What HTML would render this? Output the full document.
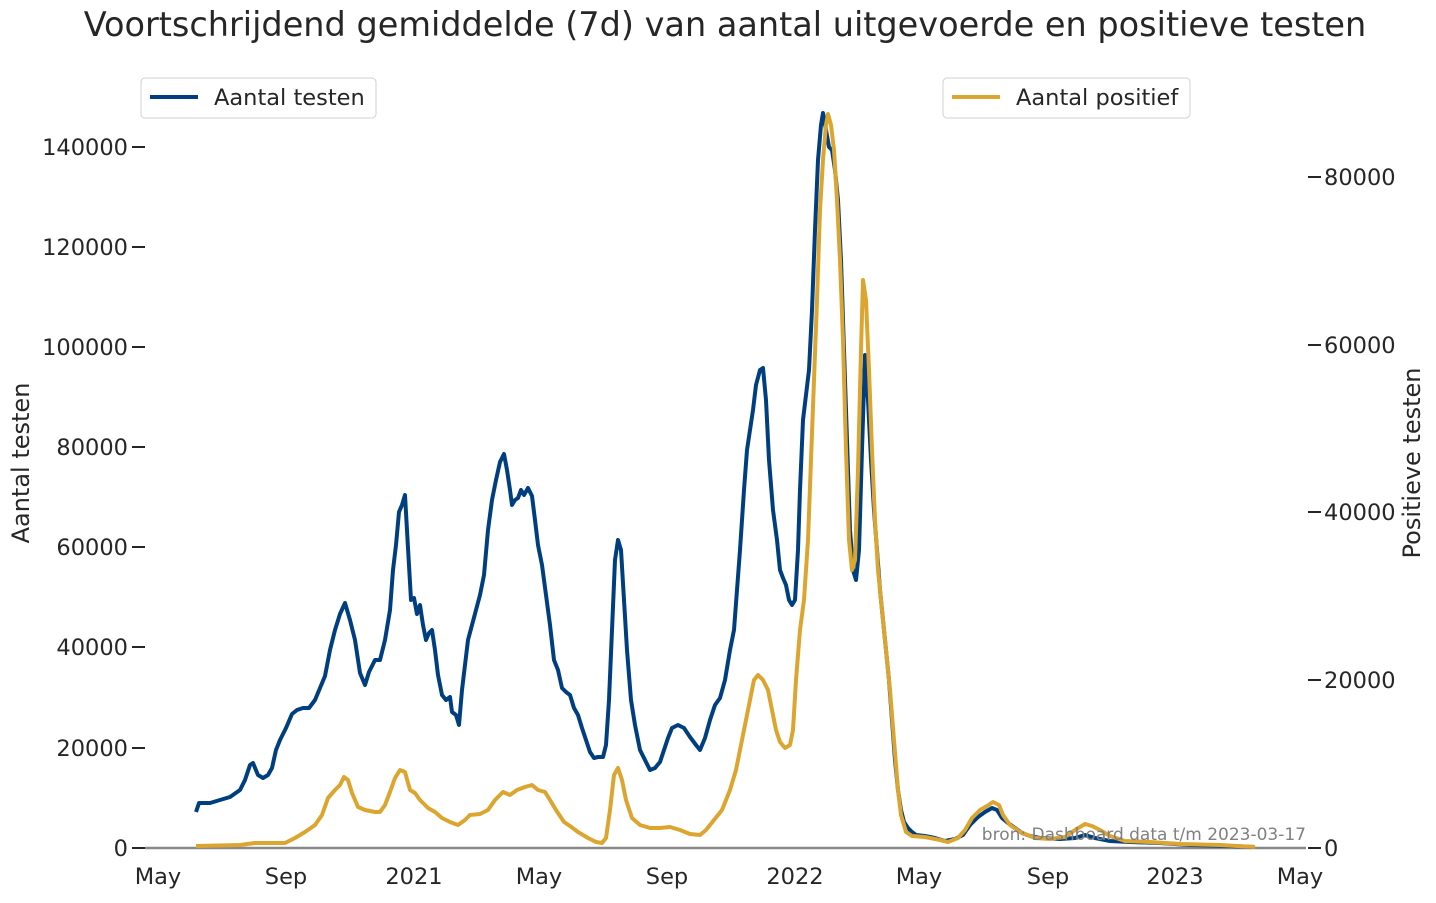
<!DOCTYPE html>
<html><head><meta charset="utf-8"><style>
body{margin:0;background:#fff;}
svg text{font-family:"DejaVu Sans","Liberation Sans",sans-serif;fill:#262626;}
</style></head><body>
<svg width="1436" height="898" viewBox="0 0 1436 898" xmlns="http://www.w3.org/2000/svg">
<text x="725" y="36" font-size="33.5" text-anchor="middle">Voortschrijdend gemiddelde (7d) van aantal uitgevoerde en positieve testen</text>
<g font-size="22.5" text-anchor="end" stroke="none">
<text x="128" y="856">0</text>
<text x="128" y="756">20000</text>
<text x="128" y="655">40000</text>
<text x="128" y="555">60000</text>
<text x="128" y="455">80000</text>
<text x="128" y="355">100000</text>
<text x="128" y="255">120000</text>
<text x="128" y="155">140000</text>
</g>
<g stroke="#262626" stroke-width="2">
<line x1="132" x2="145" y1="848" y2="848"/><line x1="132" x2="145" y1="748" y2="748"/>
<line x1="132" x2="145" y1="647" y2="647"/><line x1="132" x2="145" y1="547" y2="547"/>
<line x1="132" x2="145" y1="447" y2="447"/><line x1="132" x2="145" y1="347" y2="347"/>
<line x1="132" x2="145" y1="247" y2="247"/><line x1="132" x2="145" y1="147" y2="147"/>
<line x1="1308" x2="1321" y1="848" y2="848"/><line x1="1308" x2="1321" y1="680" y2="680"/>
<line x1="1308" x2="1321" y1="512" y2="512"/><line x1="1308" x2="1321" y1="345" y2="345"/>
<line x1="1308" x2="1321" y1="177" y2="177"/>
</g>
<g font-size="22.5">
<text x="1324" y="856">0</text>
<text x="1324" y="688">20000</text>
<text x="1324" y="520">40000</text>
<text x="1324" y="353">60000</text>
<text x="1324" y="185">80000</text>
</g>
<text font-size="24" transform="translate(29,463) rotate(-90)" text-anchor="middle">Aantal testen</text>
<text font-size="24" transform="translate(1420,463) rotate(-90)" text-anchor="middle">Positieve testen</text>
<g font-size="22.5" text-anchor="middle">
<text x="158" y="884">May</text><text x="286" y="884">Sep</text><text x="414" y="884">2021</text>
<text x="539" y="884">May</text><text x="667" y="884">Sep</text><text x="795" y="884">2022</text>
<text x="919" y="884">May</text><text x="1048" y="884">Sep</text><text x="1175" y="884">2023</text>
<text x="1300" y="884">May</text>
</g>
<line x1="145" x2="1306" y1="848" y2="848" stroke="#888" stroke-width="2.5"/>
<polyline fill="none" stroke="#003f7f" stroke-width="4" stroke-linejoin="round" points="196,812 199,803 210,803 220,800 230,797 240,790 245,780 250,765 253,763 258,775 263,778 268,775 272,768 276,750 280,740 286,728 292,714 297,710 303,708 309,708 315,700 320,688 325,676 330,650 335,630 340,614 345,603 350,620 355,640 360,673 365,685 369,672 375,660 380,660 385,640 390,610 393,570 396,545 399,512 402,505 405,495 408,548 411,600 414,598 417,614 420,605 423,625 426,640 429,633 432,630 435,650 438,675 442,695 446,700 450,697 452,712 456,715 459,725 462,690 465,665 468,640 472,625 476,610 480,595 484,575 488,530 492,500 496,480 500,462 504,454 507,470 510,490 512,505 515,500 518,498 521,490 524,495 528,488 532,496 535,520 538,545 542,565 546,595 550,625 554,660 558,670 562,688 566,692 570,695 574,708 578,715 582,728 586,740 590,752 594,758 598,757 603,757 606,745 609,700 612,630 615,560 618,540 621,550 624,600 627,650 631,700 635,725 640,750 645,760 650,770 655,768 660,762 664,750 668,738 672,728 678,725 684,728 690,737 696,745 700,750 705,738 710,720 715,705 720,698 725,680 730,650 734,630 737,590 740,550 744,490 747,450 750,430 753,410 756,385 760,370 763,368 766,400 769,460 773,510 777,540 780,570 783,578 786,585 789,600 792,605 795,600 798,550 800,490 803,420 806,395 809,370 812,310 815,230 818,160 821,125 823,113 826,130 829,147 832,150 835,170 838,200 841,260 844,350 847,440 850,530 853,570 856,580 859,550 862,450 865,355 868,400 871,460 874,510 877,550 880,590 883,620 886,650 889,680 892,720 895,760 898,790 901,810 904,822 908,828 912,832 916,835 925,836 935,838 945,841 955,839 963,835 970,825 978,817 985,812 992,808 997,810 1002,818 1008,823 1015,828 1022,833 1030,836 1040,838 1060,839 1075,838 1085,835 1095,838 1110,841 1130,842 1160,843 1190,845 1230,846 1255,847"/>
<polyline fill="none" stroke="#dca530" stroke-width="4" stroke-linejoin="round" points="196,846 240,845 255,843 270,843 285,843 295,838 305,832 315,825 322,815 328,798 335,790 340,785 344,777 348,780 352,793 358,807 365,810 375,812 380,812 385,805 390,792 395,778 400,770 405,772 410,790 415,793 420,800 428,808 435,812 442,818 450,822 458,825 465,820 470,815 480,814 488,810 495,800 503,792 510,795 517,790 525,787 532,785 538,790 545,792 550,800 556,810 564,822 570,826 578,832 588,838 596,842 602,843 606,838 610,810 614,775 618,768 622,780 626,800 632,818 640,825 650,828 660,828 670,827 680,830 690,834 700,835 706,830 714,820 722,810 730,790 736,770 742,740 748,710 754,680 758,675 763,680 768,690 772,710 776,730 780,742 785,748 790,745 793,730 796,680 800,630 804,600 808,540 811,460 814,380 817,300 820,210 823,160 826,125 828,114 831,125 834,150 837,200 840,260 843,340 846,450 849,540 852,570 855,560 858,470 861,350 863,280 866,300 869,370 872,450 875,520 878,570 882,610 886,650 890,690 894,740 898,790 901,815 906,832 912,836 925,837 940,840 948,842 958,838 965,830 972,818 980,810 987,806 993,802 999,805 1003,815 1010,825 1020,832 1035,838 1050,839 1065,837 1075,830 1085,824 1092,826 1100,830 1110,836 1125,841 1150,842 1180,844 1220,845 1255,847"/>
<text x="1306" y="840" font-size="17" text-anchor="end" style="fill:#808080">bron: Dashboard data t/m 2023-03-17</text>
<rect x="141" y="78" width="235" height="40" rx="4" fill="#fff" fill-opacity="0.8" stroke="#d0d0d0"/>
<line x1="150" x2="198" y1="97" y2="97" stroke="#003f7f" stroke-width="4"/>
<text x="214" y="105" font-size="22.5">Aantal testen</text>
<rect x="943" y="78" width="247" height="40" rx="4" fill="#fff" fill-opacity="0.8" stroke="#d0d0d0"/>
<line x1="952" x2="1000" y1="97" y2="97" stroke="#dca530" stroke-width="4"/>
<text x="1016" y="105" font-size="22.5">Aantal positief</text>
</svg>
</body></html>
